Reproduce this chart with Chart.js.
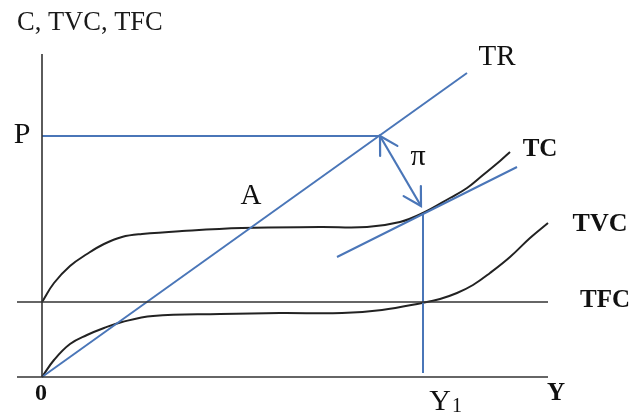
<!DOCTYPE html>
<html>
<head>
<meta charset="utf-8">
<script src="https://cdn.jsdelivr.net/npm/chart.js@4"></script>
<style>
html,body{margin:0;padding:0;background:#ffffff;}
#wrap{width:633px;height:414px;position:relative;}
#probe{position:absolute;left:-9999px;top:0;font-family:"Liberation Serif";}
</style>
</head>
<body>
<div id="wrap"><canvas id="c" width="633" height="414"></canvas></div>
<span id="probe">C <b>TVC</b> &#960;</span>
<script>
// ---- Data (units: output quantity Y and cost/revenue C) ----
const tcX  = [0, 12, 28, 45, 62, 80, 100, 140, 200, 278, 325, 358, 381, 408, 425, 441, 458, 468];
const tcY  = [75, 94, 111, 123, 133, 140, 143, 146, 149, 150, 150, 155, 164, 179, 189, 202, 216, 225];
const tvcX = [0, 12, 28, 45, 62, 80, 111, 178, 238, 300, 340, 380, 398, 415, 431, 448, 468, 488, 506];
const tvcY = [0, 17, 33, 42, 49, 55, 61, 63, 64, 64, 67, 74, 78, 84, 92, 104, 120, 139, 154];
const trX  = [0, 425];
const trY  = [0, 304];
const tfcLevel = 75;
const priceLevel = 241;
const y1Value = 381;
const tangentX = [295, 475];
const tangentY = [120, 210];
const profitFrom = [338, 241];
const profitTo   = [379, 171];
const axisXRange = [-25, 506];
const axisYTop = 323;
const axisLabels = ["C, TVC, TFC", "Y", "0"];
const curveLabels = ["TR", "TC", "TVC", "TFC", "P", "A", "\u03C0"];
const y1Label = ["Y", "1"];

const pts = (xs, ys) => xs.map((x, i) => ({x: x, y: ys[i]}));
const BLUE = '#4a76b8';
const DARK = '#222222';
const SERIF = '"Liberation Serif", "Times New Roman", Times, serif';

const datasets = [
  {label:'x-axis', data:[{x:axisXRange[0],y:0},{x:axisXRange[1],y:0}], borderColor:'#333', borderWidth:1.6},
  {label:'y-axis', data:[{x:0,y:0},{x:0,y:axisYTop}], borderColor:'#333', borderWidth:1.6},
  {label:'TFC', data:[{x:axisXRange[0],y:tfcLevel},{x:axisXRange[1],y:tfcLevel}], borderColor:'#333', borderWidth:1.6},
  {label:'P', data:[{x:0,y:priceLevel},{x:profitFrom[0],y:priceLevel}], borderColor:BLUE, borderWidth:2},
  {label:'TR', data:pts(trX, trY), borderColor:BLUE, borderWidth:2},
  {label:'tangent', data:pts(tangentX, tangentY), borderColor:BLUE, borderWidth:2},
  {label:'Y1', data:[{x:y1Value,y:4},{x:y1Value,y:164}], borderColor:BLUE, borderWidth:2},
  {label:'profit', data:[{x:profitFrom[0],y:profitFrom[1]},{x:profitTo[0],y:profitTo[1]}], borderColor:BLUE, borderWidth:2.2},
  {label:'TC', data:pts(tcX, tcY), borderColor:DARK, borderWidth:2, tension:0.4},
  {label:'TVC', data:pts(tvcX, tvcY), borderColor:DARK, borderWidth:2, tension:0.4}
].map(d => Object.assign({showLine:true, pointRadius:0, pointHoverRadius:0, fill:false}, d));

// Label placement (data coordinates), kept separate from the data arrays
const labelSpecs = [
  {t:axisLabels[0], x:-25, y:354, font:'26.5px ' + SERIF, align:'left', color:'#1a1a1a'},
  {t:axisLabels[1], x:514, y:-17, font:'bold 25px ' + SERIF, align:'center', color:'#111'},
  {t:axisLabels[2], x:-1,  y:-17, font:'bold 24px ' + SERIF, align:'center', color:'#111'},
  {t:curveLabels[0], x:455, y:320, font:'29px ' + SERIF, align:'center', color:'#111'},
  {t:curveLabels[1], x:498, y:227, font:'bold 25px ' + SERIF, align:'center', color:'#111'},
  {t:curveLabels[2], x:558, y:153, font:'bold 26px ' + SERIF, align:'center', color:'#111'},
  {t:curveLabels[3], x:563, y:76,  font:'bold 25px ' + SERIF, align:'center', color:'#111'},
  {t:curveLabels[4], x:-20, y:242, font:'30px ' + SERIF, align:'center', color:'#111'},
  {t:curveLabels[5], x:209, y:181, font:'29px ' + SERIF, align:'center', color:'#111'},
  {t:curveLabels[6], x:376, y:220, font:'30px ' + SERIF, align:'center', color:'#111'},
  {t:y1Label[0], x:398, y:-25, font:'30px ' + SERIF, align:'center', color:'#111'},
  {t:y1Label[1], x:415, y:-30, font:'20px ' + SERIF, align:'center', color:'#111'}
];

const annot = {
  id:'annot',
  afterDatasetsDraw(chart){
    const ctx = chart.ctx, xs = chart.scales.x, ys = chart.scales.y;
    const p1 = {x:xs.getPixelForValue(profitFrom[0]), y:ys.getPixelForValue(profitFrom[1])};
    const p2 = {x:xs.getPixelForValue(profitTo[0]), y:ys.getPixelForValue(profitTo[1])};
    const head = (tip, from) => {
      const a = Math.atan2(tip.y - from.y, tip.x - from.x);
      const L = 20, spread = Math.PI/6;
      ctx.beginPath();
      ctx.moveTo(tip.x - L*Math.cos(a - spread), tip.y - L*Math.sin(a - spread));
      ctx.lineTo(tip.x, tip.y);
      ctx.lineTo(tip.x - L*Math.cos(a + spread), tip.y - L*Math.sin(a + spread));
      ctx.stroke();
    };
    ctx.save();
    ctx.strokeStyle = BLUE; ctx.lineWidth = 2.2; ctx.lineCap = 'round'; ctx.lineJoin = 'miter';
    head(p1, p2); head(p2, p1);
    ctx.restore();
    ctx.save();
    ctx.textBaseline = 'middle';
    labelSpecs.forEach(l => {
      ctx.font = l.font; ctx.fillStyle = l.color; ctx.textAlign = l.align;
      ctx.fillText(l.t, xs.getPixelForValue(l.x), ys.getPixelForValue(l.y));
    });
    ctx.restore();
  }
};

function build(){
  new Chart(document.getElementById('c'), {
    type:'scatter',
    data:{datasets:datasets},
    options:{
      responsive:false,
      animation:false,
      events:[],
      layout:{padding:0},
      plugins:{legend:{display:false}, tooltip:{enabled:false}},
      scales:{
        x:{type:'linear', min:-42, max:591, display:false},
        y:{type:'linear', min:-37, max:377, display:false}
      }
    },
    plugins:[annot]
  });
}
Promise.all([
  document.fonts.load('24px "Liberation Serif"'),
  document.fonts.load('bold 24px "Liberation Serif"')
]).then(build, build);
</script>
</body>
</html>
